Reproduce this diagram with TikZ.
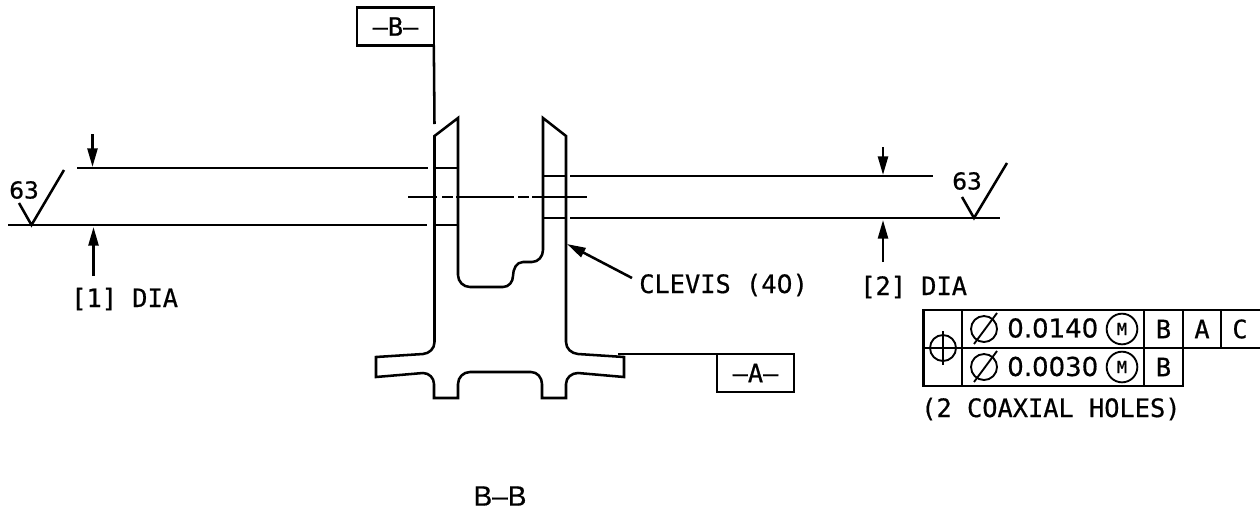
\documentclass[tikz,border=0pt]{standalone}
\usepackage{fontspec}
\setmonofont[FakeBold=0.6]{DejaVu Sans Mono}
\setsansfont[FakeBold=0.6]{DejaVu Sans}
\setmainfont[FakeBold=0.6]{Liberation Sans}
\usetikzlibrary{arrows.meta}
\tikzset{
    px/.style={x=0.75pt, y=-0.75pt},
    outline/.style={line width=1.9pt, line join=miter},
    heavy/.style={line width=2.1pt},
    thin line/.style={line width=1.4pt},
    leader/.style={line width=1.9pt, -{Triangle[length=14pt, width=7.5pt]}},
    datum/.style={draw, line width=1.9pt, outer sep=0pt, minimum width=57.5pt, minimum height=28.5pt, inner sep=0pt, font=\ttfamily\fontsize{19}{20}\selectfont},
    lbl/.style={inner sep=0pt, anchor=base west, font=\ttfamily\fontsize{19}{20}\selectfont},
    finish/.style={inner sep=0pt, font=\sffamily\fontsize{17.5}{20}\selectfont},
    cell/.style={inner sep=0pt, font=\ttfamily\fontsize{19}{20}\selectfont},
    tol/.style={inner sep=0pt, anchor=west, font=\sffamily\fontsize{19.5}{20}\selectfont},
    symbol/.style={draw, circle, line width=1.4pt, outer sep=0pt, minimum size=19.5pt, inner sep=0pt},
    modifier/.style={draw, circle, line width=1.4pt, outer sep=0pt, minimum size=23pt, inner sep=0pt, font=\ttfamily\fontsize{12.5}{12}\selectfont}
}
\begin{document}
\begin{tikzpicture}[px]
    \useasboundingbox (0,0) rectangle (1260,511);

    \draw[outline] (434.5,136) -- (458,118) -- (458,275)
        to[out=-90, in=180] (470,287) -- (503,287) to[out=0, in=-90] (513,276)
        to[out=90, in=180] (523,262) -- (532,262) to[out=0, in=-90] (543,250) -- (543,118)
        -- (566,136) -- (566,342) to[out=-90, in=175] (578,354) -- (624,357) -- (624,377) -- (578,373)
        to[out=180, in=90] (566,384) -- (566,398) -- (542,398) -- (542,384)
        to[out=90, in=0] (531,372) -- (470,372) to[out=180, in=90] (458,384) -- (458,398) -- (434,398) -- (434,384)
        to[out=90, in=0] (423,373) -- (376,377) -- (376,357) -- (423,354) to[out=5, in=-90] (434.5,342) -- cycle;

    % holes
    \draw[thin line] (434,168) -- (458,168);
    \draw[thin line] (434,225) -- (458,225);
    \draw[thin line] (542,176) -- (566,176);
    \draw[thin line] (542,218) -- (566,218);
    \draw[thin line, dash pattern=on 21.75pt off 3.75pt on 8.25pt off 2.25pt on 43.5pt off 3pt on 8.25pt off 2.25pt on 41.25pt] (408,197) -- (587,197);

    % dimension lines
    \draw[heavy] (77,168) -- (428,168);
    \draw[heavy] (8,225) -- (427,225);
    \draw[thin line] (570,176) -- (933,176);
    \draw[heavy] (570,218) -- (1000,218);

    \coordinate (top1) at (92.5,167);
    \coordinate (bot1) at (93.5,227);
    \coordinate (top2) at (883,175);
    \coordinate (bot2) at (883,220);
    \coordinate (clevis) at (567,244);
    \draw[leader] (92.5,134) -- (top1);
    \draw[leader] (93.5,276) -- (bot1);
    \draw[leader] (883,147) -- (top2);
    \draw[leader] (883,262) -- (bot2);

    % finish marks
    \node[finish] (finishleft) at (24,190) {63};
    \node[finish] (finishright) at (967,181) {63};
    \draw[outline] (19,203) -- (31.5,225) -- (64,170);
    \draw[outline] (962,197) -- (974,218) -- (1007,163);

    % labels
    \node[lbl] (dia1) at (71,307) {[1] DIA};
    \node[lbl] (dia2) at (860,295) {[2] DIA};
    \node[lbl] (clevislabel) at (639,293) {CLEVIS (4{\sffamily 0})};
    \draw[leader] (632,278) -- (clevis);

    % datums
    \node[datum] (datumb) at (395.5,26.5) {–B–};
    \node[datum] (datuma) at (755.5,373) {–A–};
    \draw[outline] (datumb.south east) -- (434.5,124);
    \draw[outline] (datuma.north west) -- (618,354);

    % frame
    \coordinate (frame) at (923.5,310);
    \draw[outline] (1260,310) -- (frame) -- (923.5,386) -- (1183,386) -- (1183,310);
    \draw[outline] (923.5,348) -- (1260,348);
    \draw[thin line] (962,310) -- (962,386);
    \draw[thin line] (1144,310) -- (1144,386);
    \draw[thin line] (1221,310) -- (1221,348);

    \node[symbol] (position) at (943,348) {};
    \draw[thin line] (position.center) ++(0,-17) -- ++(0,34);
    \draw[thin line] (position.center) ++(-17,0) -- ++(34,0);

    \node[symbol] (dia3) at (984,329) {};
    \node[symbol] (dia4) at (984,367) {};
    \draw[thin line] (974,344) -- (997,313);
    \draw[thin line] (974,382) -- (997,351);

    \node[tol] (tol1) at (1007,328) {0.0140};
    \node[tol] (tol2) at (1007,366.5) {0.0030};
    \node[modifier] (mod1) at (1122,329) {M};
    \node[modifier] (mod2) at (1122,367) {M};
    \node[cell] (cell1) at (1163.5,329) {B};
    \node[cell] (cell2) at (1202,329) {A};
    \node[cell] (cell3) at (1240,329) {C};
    \node[cell] (cell4) at (1163.5,367) {B};
    \node[lbl] (holes) at (921,417) {(2 COAXIAL HOLES)};

    \node[inner sep=0pt, font=\rmfamily\fontsize{21}{24}\selectfont] (section) at (500,496) {B--B};
\end{tikzpicture}
\end{document}
